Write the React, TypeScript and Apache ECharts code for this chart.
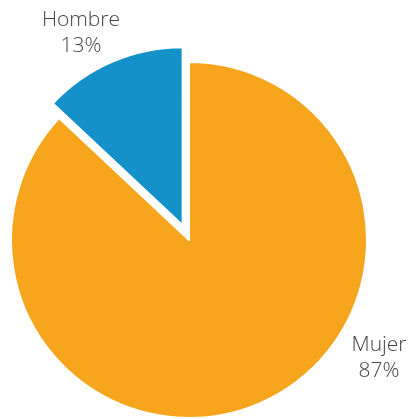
import React, { useEffect, useRef } from "react";
import * as echarts from "echarts";

const categories = ["Mujer", "Hombre"];
const values = [87, 13];
const colors = ["#F6A51D", "#1591C9"];
const labelPos = [
  [379, 356],
  [81, 31],
];

export default function App() {
  const ref = useRef<HTMLDivElement>(null);
  useEffect(() => {
    if (!ref.current) return;
    const chart = echarts.init(ref.current, undefined, { renderer: "svg" });
    const cx = 189;
    const cy = 240;
    const off = 16;
    // angle of the bisector of the exploded (second) slice
    const total = values[0] + values[1];
    const midDeg = 90 + (values[1] / total) * 180;
    const rad = (midDeg * Math.PI) / 180;
    const centers = [
      [cx, cy],
      [cx + off * Math.cos(rad), cy - off * Math.sin(rad)],
    ];
    const makeSeries = (k: number) => ({
      type: "pie",
      center: centers[k],
      radius: 178,
      startAngle: 90,
      clockwise: true,
      avoidLabelOverlap: false,
      silent: true,
      label: {
        show: true,
        position: "outside",
        formatter: "{b}\n{c}%",
        fontFamily: "Open Sans",
        fontWeight: 300,
        fontSize: 21,
        lineHeight: 26,
        color: "#444444",
        align: "center",
        overflow: "none",
        width: 120,
      },
      labelLine: { show: false },
      labelLayout: () => ({
        x: labelPos[k][0],
        y: labelPos[k][1],
        align: "center",
        verticalAlign: "middle",
      }),
      emphasis: { disabled: true },
      data: categories.map((name, i) => ({
        name,
        value: values[i],
        label: { show: i === k },
        itemStyle:
          i === k
            ? { color: colors[i], borderColor: "#ffffff", borderWidth: 2 }
            : { color: "transparent", borderColor: "transparent", borderWidth: 0 },
      })),
    });
    chart.setOption({
      animation: false,
      series: [makeSeries(0), makeSeries(1)],
    });
    return () => chart.dispose();
  }, []);
  return (
    <div
      ref={ref}
      style={{ position: "fixed", left: 0, top: 0, width: 411, height: 419 }}
    />
  );
}
